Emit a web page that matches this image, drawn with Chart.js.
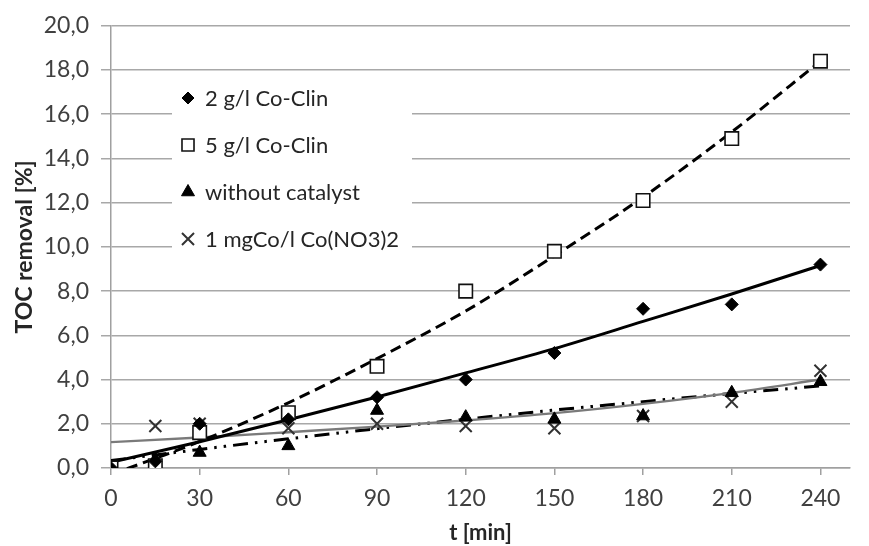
<!DOCTYPE html>
<html><head><meta charset="utf-8">
<script src="https://cdn.jsdelivr.net/npm/chart.js@4/dist/chart.umd.min.js"></script>
<style>html,body{margin:0;padding:0;background:#fff}#wrap{width:869px;height:546px;position:relative}</style>
</head><body><div id="wrap"><canvas id="c"></canvas></div>
<script>
// ---- data ----
const times = [0, 15, 30, 60, 90, 120, 150, 180, 210, 240];
const coClin2 = [0.0, 0.3, 2.0, 2.2, 3.2, 4.0, 5.2, 7.2, 7.4, 9.2];
const coClin5 = [0.0, 0.1, 1.6, 2.5, 4.6, 8.0, 9.8, 12.1, 14.9, 18.4];
const noCatalyst = [0.0, 0.4, 0.7, 1.0, 2.6, 2.3, 2.2, 2.35, 3.4, 3.9];
const coNitrate = [0.0, 1.9, 2.0, 1.8, 2.0, 1.9, 1.8, 2.35, 3.0, 4.4];

// trend lines as they appear in the picture
const trendTimes = [0, 30, 60, 90, 120, 150, 180, 210, 240];
const trendCoClin2 = [0.26, 1.19, 2.18, 3.21, 4.30, 5.40, 6.63, 7.87, 9.16];
const trendCoClin5 = [-0.30, 1.20, 2.95, 4.95, 7.10, 9.60, 12.25, 15.20, 18.40];
const trendNoCatalyst = [0.34, 0.84, 1.32, 1.78, 2.21, 2.62, 3.00, 3.37, 3.71];
const trendCoNitrate = [1.17, 1.38, 1.62, 1.87, 2.15, 2.48, 2.90, 3.40, 4.00];

const seriesLabels = ['2 g/l Co-Clin', '5 g/l Co-Clin', 'without catalyst', '1 mgCo/l Co(NO3)2'];
const xTickValues = [0, 30, 60, 90, 120, 150, 180, 210, 240];
const yTickLabels = ['0,0', '2,0', '4,0', '6,0', '8,0', '10,0', '12,0', '14,0', '16,0', '18,0', '20,0'];
const xTitle = 't [min]';
const yTitle = 'TOC removal [%]';

const pts = (xs, ys) => xs.map((x, i) => ({ x: x, y: ys[i] }));
const FONT = 'Lato';

const markerSets = [
  { label: seriesLabels[0], data: pts(times, coClin2), pointStyle: 'rectRot', pointRadius: 6.5,
    backgroundColor: '#000', borderColor: '#000', borderWidth: 1, order: 1 },
  { label: seriesLabels[1], data: pts(times, coClin5), pointStyle: 'rect', pointRadius: 9.5,
    backgroundColor: '#fff', borderColor: '#111', borderWidth: 1.6, order: 2 },
  { label: seriesLabels[2], data: pts(times, noCatalyst), pointStyle: 'triangle', pointRadius: 7.5,
    backgroundColor: '#000', borderColor: '#000', borderWidth: 1, order: 3 },
  { label: seriesLabels[3], data: pts(times, coNitrate), pointStyle: 'crossRot', pointRadius: 8.5,
    backgroundColor: '#333', borderColor: '#333', borderWidth: 2, order: 4 }
];
markerSets.forEach(d => { d.showLine = false; d.pointHoverRadius = d.pointRadius; });

const lineBase = { showLine: true, pointRadius: 0, pointHoverRadius: 0, fill: false, cubicInterpolationMode: 'monotone' };
const trendSets = [
  Object.assign({ label: 'trend1', data: pts(trendTimes, trendCoClin2), borderColor: '#000', borderWidth: 3, order: 5 }, lineBase),
  Object.assign({ label: 'trend2', data: pts(trendTimes, trendCoClin5), borderColor: '#000', borderWidth: 3, borderDash: [11, 6], order: 6 }, lineBase),
  Object.assign({ label: 'trend3', data: pts(trendTimes, trendNoCatalyst), borderColor: '#000', borderWidth: 3, borderDash: [15, 7, 2.5, 7, 2.5, 7], order: 8 }, lineBase),
  Object.assign({ label: 'trend4', data: pts(trendTimes, trendCoNitrate), borderColor: '#7a7a7a', borderWidth: 2.4, order: 7 }, lineBase)
];

const LEG = { x: 172, y: 74, w: 240, h: 188, markerX: 188, textX: 205, row0: 98, gap: 47 };

function manualPoint(ctx, style, r, x, y) {
  ctx.beginPath();
  if (style === 'rectRot') { ctx.moveTo(x - r, y); ctx.lineTo(x, y - r); ctx.lineTo(x + r, y); ctx.lineTo(x, y + r); ctx.closePath(); ctx.fill(); ctx.stroke(); }
  else if (style === 'rect') { const s = r * Math.SQRT1_2; ctx.rect(x - s, y - s, 2 * s, 2 * s); ctx.fill(); ctx.stroke(); }
  else if (style === 'triangle') { ctx.moveTo(x, y - r); ctx.lineTo(x + r * 0.866, y + r / 2); ctx.lineTo(x - r * 0.866, y + r / 2); ctx.closePath(); ctx.fill(); ctx.stroke(); }
  else { const s = r * Math.SQRT1_2; ctx.moveTo(x - s, y - s); ctx.lineTo(x + s, y + s); ctx.moveTo(x - s, y + s); ctx.lineTo(x + s, y - s); ctx.stroke(); }
}

const insideLegend = {
  id: 'insideLegend',
  beforeDatasetsDraw(chart) {
    const ctx = chart.ctx;
    ctx.save(); ctx.fillStyle = '#fff'; ctx.fillRect(LEG.x, LEG.y, LEG.w, LEG.h); ctx.restore();
  },
  afterDatasetsDraw(chart) {
    const ctx = chart.ctx;
    ctx.save();
    markerSets.forEach((ds, i) => {
      const y = LEG.row0 + i * LEG.gap;
      ctx.fillStyle = ds.backgroundColor; ctx.strokeStyle = ds.borderColor; ctx.lineWidth = ds.borderWidth;
      const r = ds.pointStyle === 'rect' ? 8.5 : (ds.pointStyle === 'rectRot' ? 6 : ds.pointRadius);
      if (window.Chart && Chart.helpers && Chart.helpers.drawPoint) {
        Chart.helpers.drawPoint(ctx, { pointStyle: ds.pointStyle, radius: r, rotation: 0, borderWidth: ds.borderWidth }, LEG.markerX, y);
      } else {
        manualPoint(ctx, ds.pointStyle, r, LEG.markerX, y);
      }
      ctx.fillStyle = '#262626';
      ctx.font = '22px ' + FONT;
      ctx.textBaseline = 'middle';
      ctx.textAlign = 'left';
      ctx.fillText(ds.label, LEG.textX, y + 1);
    });
    ctx.restore();
  }
};

new Chart(document.getElementById('c'), {
  type: 'scatter',
  data: { datasets: markerSets.concat(trendSets) },
  options: {
    responsive: true, maintainAspectRatio: false, animation: false, devicePixelRatio: 1,
    layout: { padding: { top: 25, right: 19, left: 0, bottom: 0 } },
    plugins: { legend: { display: false }, tooltip: { enabled: false } },
    scales: {
      x: {
        type: 'linear', min: 0, max: 250,
        afterBuildTicks: s => { s.ticks = xTickValues.map(v => ({ value: v })); },
        afterFit: s => { s.height = 78; },
        ticks: { font: { family: FONT, size: 23 }, color: '#404040', padding: 10, maxRotation: 0, autoSkip: false,
                 callback: v => String(v) },
        grid: { drawOnChartArea: false, drawTicks: true, tickLength: 7, color: '#a0a0a0', lineWidth: 1.5 },
        border: { display: true, color: '#a0a0a0', width: 1.5 },
        title: { display: true, text: xTitle, font: { family: FONT, size: 22, weight: 'bold' }, color: '#262626',
                 padding: { top: 0, bottom: 0 } }
      },
      y: {
        min: 0, max: 20,
        afterFit: s => { s.width = 111; },
        ticks: { stepSize: 2, font: { family: FONT, size: 23 }, color: '#404040', padding: 12,
                 callback: v => yTickLabels[Math.round(v / 2)] },
        grid: { drawTicks: true, tickLength: 10, color: '#a8a8a8', lineWidth: 1.5 },
        border: { display: true, color: '#a0a0a0', width: 1.5 },
        title: { display: true, text: yTitle, font: { family: FONT, size: 23, weight: 'bold' }, color: '#262626',
                 padding: { top: 11, bottom: 0 } }
      }
    }
  },
  plugins: [insideLegend]
});
</script>
</body></html>
